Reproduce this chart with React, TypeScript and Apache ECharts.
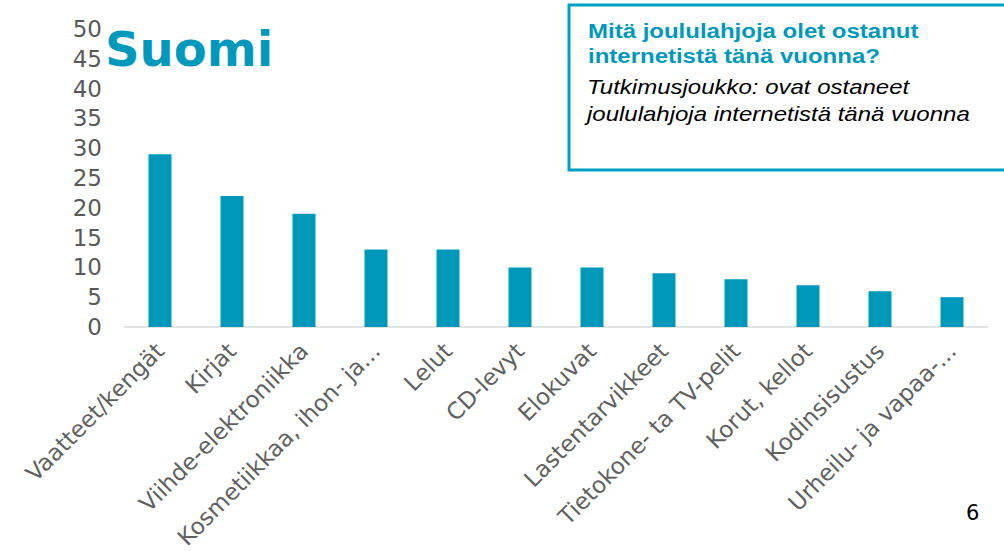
import React, { useEffect, useRef } from "react";
import * as echarts from "echarts";

const categories = [
  "Vaatteet/kengät",
  "Kirjat",
  "Viihde-elektroniikka",
  "Kosmetiikkaa, ihon- ja...",
  "Lelut",
  "CD-levyt",
  "Elokuvat",
  "Lastentarvikkeet",
  "Tietokone- ta TV-pelit",
  "Korut, kellot",
  "Kodinsisustus",
  "Urheilu- ja vapaa-...",
];
const values = [29, 22, 19, 13, 13, 10, 10, 9, 8, 7, 6, 5];
const yTicks = { min: 0, max: 50, interval: 5 };

const TEAL = "#0099BC";

export default function App() {
  const ref = useRef<HTMLDivElement>(null);
  useEffect(() => {
    if (!ref.current) return;
    const chart = echarts.init(ref.current, undefined, { renderer: "svg" });
    chart.setOption({
      animation: false,
      grid: {
        left: 124,
        right: 16,
        top: 29,
        bottom: 224,
        containLabel: false,
        outerBoundsMode: "none",
      },
      xAxis: {
        type: "category",
        data: categories,
        axisLine: { lineStyle: { color: "#d9d9d9", width: 1.5 } },
        axisTick: { show: false },
        axisLabel: {
          interval: 0,
          rotate: 45,
          margin: 20,
          color: "#606060",
          fontSize: 23,
          fontFamily: "DejaVu Sans",
        },
      },
      yAxis: {
        type: "value",
        min: yTicks.min,
        max: yTicks.max,
        interval: yTicks.interval,
        axisLine: { show: false },
        axisTick: { show: false },
        splitLine: { show: false },
        axisLabel: {
          color: "#595959",
          fontSize: 23,
          fontFamily: "DejaVu Sans",
          margin: 22,
        },
      },
      series: [
        {
          type: "bar",
          data: values,
          barWidth: 23,
          itemStyle: { color: TEAL },
        },
      ],
      graphic: [
        {
          type: "text",
          x: 105,
          y: 25,
          style: {
            text: "Suomi",
            font: "bold 48px 'DejaVu Sans'",
            fill: TEAL,
          },
        },
        {
          type: "rect",
          shape: { x: 569, y: 5, width: 450, height: 165 },
          style: { fill: "none", stroke: "#00A0C6", lineWidth: 3 },
        },
        {
          type: "text",
          x: 588,
          y: 19,
          scaleX: 1.2,
          style: {
            text: "Mitä joululahjoja olet ostanut\ninternetistä tänä vuonna?",
            font: "bold 20px 'Liberation Sans'",
            lineHeight: 25,
            fill: TEAL,
          },
        },
        {
          type: "text",
          x: 587,
          y: 74,
          scaleX: 1.2,
          style: {
            text: "Tutkimusjoukko: ovat ostaneet\njoululahjoja internetistä tänä vuonna",
            font: "italic 20px 'Liberation Sans'",
            lineHeight: 27,
            fill: "#000000",
          },
        },
        {
          type: "text",
          x: 966,
          y: 502,
          style: {
            text: "6",
            font: "21px 'DejaVu Sans'",
            fill: "#000000",
          },
        },
      ],
    });
    return () => chart.dispose();
  }, []);
  return (
    <div
      ref={ref}
      style={{ position: "fixed", left: 0, top: 0, width: 1004, height: 551, background: "#fff" }}
    />
  );
}
